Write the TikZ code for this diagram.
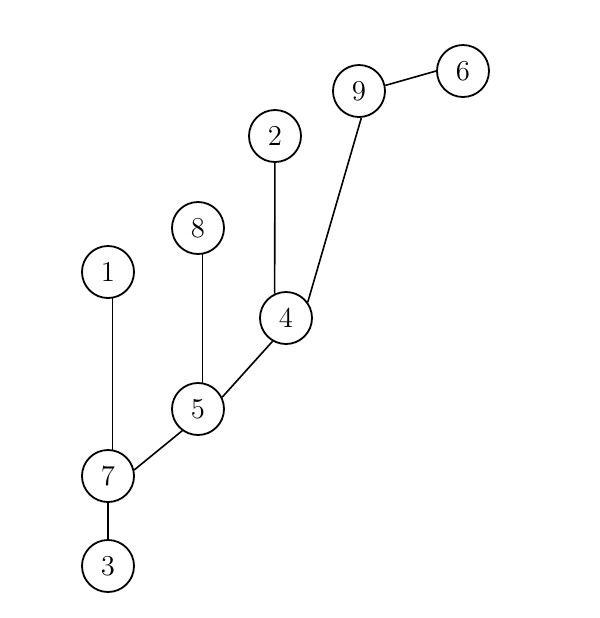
\documentclass[tikz,border=0pt]{standalone}
\usepackage{amsmath}
\usepackage{tikz}

\begin{document}
\begin{tikzpicture}[x=0.5pt, y=-0.5pt, semithick,
    vertex/.style={circle, draw, line width=0.9pt, minimum size=26pt, inner sep=0pt, font=\fontsize{15.5}{18}\selectfont}]
    \useasboundingbox (0,0) rectangle (600,618);
    \node[vertex] (v6) at (463,71) {$6$};
    \node[vertex] (v9) at (359,91) {$9$};
    \node[vertex] (v2) at (275,136) {$2$};
    \node[vertex] (v8) at (198,228) {$8$};
    \node[vertex] (v1) at (108,272) {$1$};
    \node[vertex] (v4) at (286,318) {$4$};
    \node[vertex] (v5) at (198,409) {$5$};
    \node[vertex] (v7) at (108,476) {$7$};
    \node[vertex] (v3) at (108,566) {$3$};
    
    \path[line width=0.8pt]
    (v9.12) edge (v6.180)
    (v9.-85) edge (v4.36)
    (v2) edge (v4.115)
    (v8.-80) edge (v5.80)
    (v5.26) edge (v4.240)
    (v5.234) edge (v7.13)
    (v1.-80) edge (v7.80)
    (v7) edge (v3);
\end{tikzpicture}
\end{document}
